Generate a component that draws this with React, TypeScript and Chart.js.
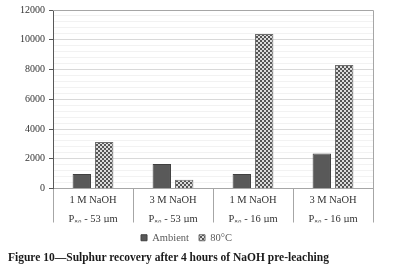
import React, { useEffect, useRef } from "react";
import { Chart, registerables } from "chart.js";

Chart.register(...registerables);

const categories: string[][] = [
  ["1 M NaOH", "P₈₀ - 53 µm"],
  ["3 M NaOH", "P₈₀ - 53 µm"],
  ["1 M NaOH", "P₈₀ - 16 µm"],
  ["3 M NaOH", "P₈₀ - 16 µm"],
];
const ambientValues = [980, 1650, 980, 2350];
const hotValues = [3130, 580, 10380, 8310];
const seriesNames = ["Ambient", "80°C"];
const yMax = 12000;
const yMinorStep = 400;
const yMajorStep = 2000;
const caption = "Figure 10—Sulphur recovery after 4 hours of NaOH pre-leaching";

const FONT = "'Liberation Serif', 'Times New Roman', serif";

function makePattern(): CanvasPattern | string {
  const c = document.createElement("canvas");
  c.width = 4;
  c.height = 4;
  const g = c.getContext("2d");
  if (!g) return "#999";
  g.fillStyle = "#dcdcdc";
  g.fillRect(0, 0, 4, 4);
  g.fillStyle = "#555";
  g.fillRect(0, 0, 2, 2);
  g.fillRect(2, 2, 2, 2);
  const p = g.createPattern(c, "repeat");
  return p || "#999";
}

const borderPlugin = {
  id: "plotBorder",
  beforeDatasetsDraw(chart: any) {
    const { ctx, chartArea } = chart;
    ctx.save();
    ctx.strokeStyle = "#a6a6a6";
    ctx.lineWidth = 1;
    ctx.beginPath();
    ctx.moveTo(chartArea.left, Math.round(chartArea.top) + 0.5);
    ctx.lineTo(Math.round(chartArea.right) + 0.5, Math.round(chartArea.top) + 0.5);
    ctx.lineTo(Math.round(chartArea.right) + 0.5, chartArea.bottom);
    ctx.stroke();
    ctx.restore();
  },
};

export default function App() {
  const ref = useRef<HTMLCanvasElement>(null);
  useEffect(() => {
    let chart: Chart | null = null;
    let cancelled = false;
    const build = () => {
      if (cancelled || !ref.current) return;
      const pattern = makePattern();
      chart = new Chart(ref.current, {
        type: "bar",
        data: {
          labels: categories,
          datasets: [
            {
              label: seriesNames[0],
              data: ambientValues,
              backgroundColor: "#595959",
              borderColor: "#404040",
              borderWidth: 1,
              categoryPercentage: 0.56,
              barPercentage: 0.82,
            },
            {
              label: seriesNames[1],
              data: hotValues,
              backgroundColor: pattern as any,
              borderColor: "#6e6e6e",
              borderWidth: 1,
              categoryPercentage: 0.56,
              barPercentage: 0.82,
            },
          ],
        },
        options: {
          animation: false,
          responsive: false,
          devicePixelRatio: 1,
          layout: { padding: { top: 7, right: 20, left: 0, bottom: 0 } },
          plugins: {
            legend: {
              position: "bottom",
              labels: {
                boxWidth: 6,
                boxHeight: 6,
                padding: 10,
                color: "#595959",
                font: { family: FONT, size: 10.5 },
              },
            },
            tooltip: { enabled: false },
          },
          scales: {
            x: {
              grid: {
                offset: true,
                drawOnChartArea: false,
                drawTicks: true,
                tickLength: 34,
                color: "#a6a6a6",
              },
              border: { display: true, color: "#a6a6a6" },
              ticks: {
                padding: -31,
                color: "#333333",
                font: { family: FONT, size: 10.5, lineHeight: 1.75 },
                maxRotation: 0,
                autoSkip: false,
              },
              afterFit: (s: any) => {
                s.height = 34;
              },
            },
            y: {
              min: 0,
              max: yMax,
              grid: {
                color: (c: any) =>
                  c.tick && c.tick.value % yMajorStep === 0 ? "#d9d9d9" : "#f2f2f2",
                tickColor: (c: any) =>
                  c.tick && c.tick.value % yMajorStep === 0 ? "#595959" : "rgba(0,0,0,0)",
                tickLength: 4,
              },
              border: { display: true, color: "#595959" },
              ticks: {
                stepSize: yMinorStep,
                autoSkip: false,
                padding: 4,
                color: "#333333",
                font: { family: FONT, size: 10 },
                callback: (v: any) => (Number(v) % yMajorStep === 0 ? String(v) : ""),
              },
              afterFit: (s: any) => {
                s.width = 53;
              },
            },
          },
        },
        plugins: [borderPlugin],
      });
    };
    const fonts: any = (document as any).fonts;
    if (fonts && fonts.load) {
      Promise.all([
        fonts.load("10px 'Liberation Serif'"),
        fonts.load("bold 11px 'Liberation Serif'"),
      ])
        .catch(() => null)
        .then(build);
    } else {
      build();
    }
    return () => {
      cancelled = true;
      if (chart) chart.destroy();
    };
  }, []);
  return (
    <div style={{ position: "fixed", left: 0, top: 0, width: 393, height: 277, background: "#fff" }}>
      <canvas ref={ref} width={393} height={253} style={{ display: "block" }} />
      <div
        style={{
          position: "absolute",
          left: 8,
          top: 251,
          fontFamily: FONT,
          fontWeight: "bold",
          fontSize: 11.5,
          color: "#1a1a1a",
          whiteSpace: "nowrap",
        }}
      >
        {caption}
      </div>
    </div>
  );
}
